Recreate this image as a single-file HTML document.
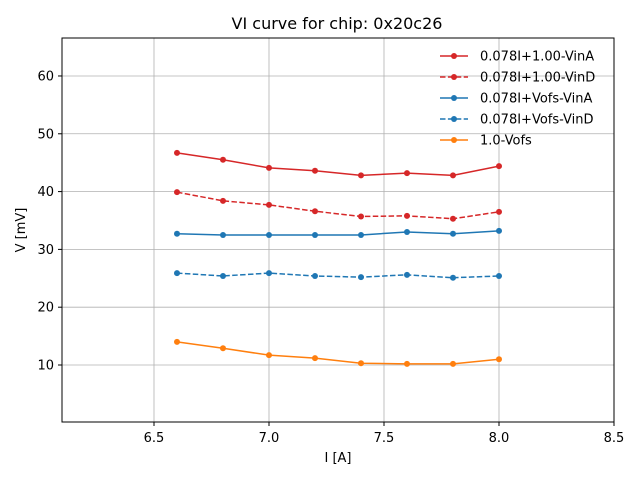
<!DOCTYPE html>
<html><head><meta charset="utf-8"><style>
body{margin:0;background:#fff;font-family:"Liberation Sans","DejaVu Sans",sans-serif;}
svg text{font-family:"DejaVu Sans","Liberation Sans",sans-serif;}
</style></head><body>
<svg id="chart" width="640" height="480">
<rect width="640" height="480" fill="#fff"/>
<text x="337" y="29" font-size="16" text-anchor="middle">VI curve for chip: 0x20c26</text>
<g id="grid"></g><g id="ticks"></g><g id="series"></g>
<rect x="62" y="38" width="552" height="384" fill="none" stroke="#000" stroke-width="1"/>
<text x="338" y="462" font-size="13" text-anchor="middle">I [A]</text>
<text x="25" y="230" font-size="13" text-anchor="middle" transform="rotate(-90 25 230)">V [mV]</text>
<g id="legend"></g>
</svg>
<script>
const xVals=[6.6,6.8,7.0,7.2,7.4,7.6,7.8,8.0];
const seriesNames=["0.078I+1.00-VinA","0.078I+1.00-VinD","0.078I+Vofs-VinA","0.078I+Vofs-VinD","1.0-Vofs"];
const s1=[46.7,45.5,44.1,43.6,42.8,43.2,42.8,44.4];
const s2=[39.9,38.4,37.7,36.6,35.7,35.8,35.3,36.5];
const s3=[32.7,32.5,32.5,32.5,32.5,33.0,32.7,33.2];
const s4=[25.9,25.4,25.9,25.4,25.2,25.6,25.1,25.4];
const s5=[14.0,12.9,11.7,11.2,10.3,10.2,10.2,11.0];
const xTicks=[6.5,7.0,7.5,8.0,8.5];
const yTicks=[10,20,30,40,50,60];
const colors=["#d62728","#d62728","#1f77b4","#1f77b4","#ff7f0e"];
const dashed=[false,true,false,true,false];
const allData=[s1,s2,s3,s4,s5];
const NS="http://www.w3.org/2000/svg";
const X=v=>62+(v-6.1)/(2.4)*552;
const Y=v=>422-(v-0.14)/(66.57-0.14)*384;
function mk(t,a,p){const e=document.createElementNS(NS,t);for(const k in a)e.setAttribute(k,a[k]);p.appendChild(e);return e;}
const grid=document.getElementById('grid'),ticks=document.getElementById('ticks'),ser=document.getElementById('series'),leg=document.getElementById('legend');
xTicks.forEach(t=>{const x=X(t);
const g=mk('line',{x1:x,x2:x,y1:38,y2:422,stroke:'#b0b0b0','stroke-width':0.8},grid);


mk('line',{x1:x,x2:x,y1:422,y2:426,stroke:'#000'},ticks);
const tx=mk('text',{x:x,y:442,'font-size':13,'text-anchor':'middle'},ticks);tx.textContent=t.toFixed(1);

});
yTicks.forEach(t=>{const y=Y(t);
const g=mk('line',{x1:62,x2:614,y1:y,y2:y,stroke:'#b0b0b0','stroke-width':0.8},grid);


mk('line',{x1:58,x2:62,y1:y,y2:y,stroke:'#000'},ticks);
const tx=mk('text',{x:54,y:y+4.5,'font-size':13,'text-anchor':'end'},ticks);tx.textContent=t;

});
allData.forEach((d,i)=>{
const pts=d.map((v,j)=>X(xVals[j])+','+Y(v)).join(' ');
const pl=mk('polyline',{points:pts,fill:'none',stroke:colors[i],'stroke-width':1.5,'stroke-dasharray':dashed[i]?'5.5,2.4':'none'},ser);


d.forEach((v,j)=>{const c=mk('circle',{cx:X(xVals[j]),cy:Y(v),r:3,fill:colors[i]},ser);

});
const ly=56+i*21;
const ll=mk('line',{x1:440,x2:468,y1:ly,y2:ly,stroke:colors[i],'stroke-width':1.5,'stroke-dasharray':dashed[i]?'5.5,2.4':'none'},leg);


mk('circle',{cx:454,cy:ly,r:3,fill:colors[i]},leg);
const lt=mk('text',{x:480,y:ly+4.5,'font-size':13},leg);lt.textContent=seriesNames[i];


});
</script>
</body></html>
